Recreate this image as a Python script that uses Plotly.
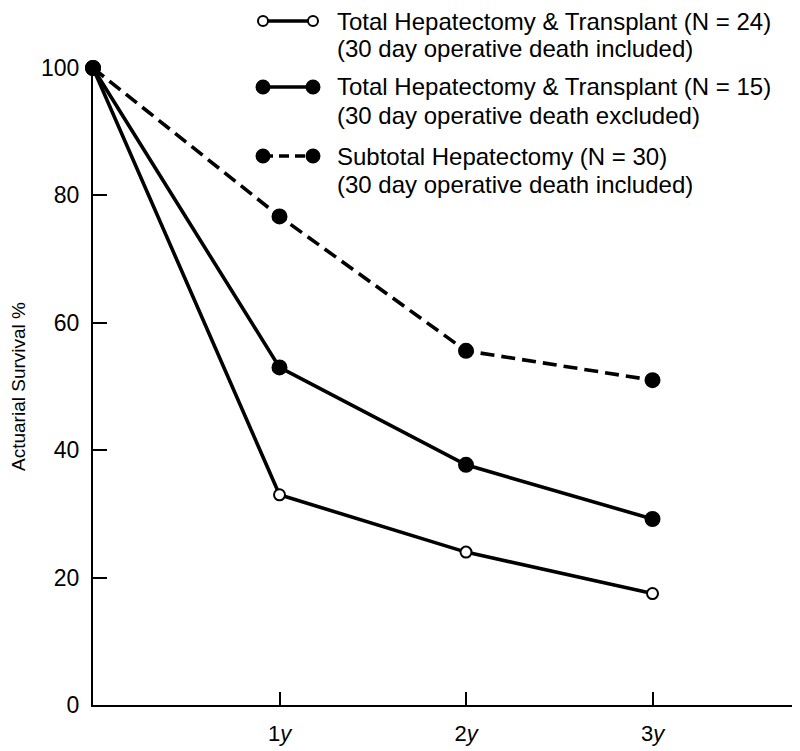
import plotly.graph_objects as go

# ---- data ----
x_years = [0, 1, 2, 3]
x_tick_vals = [1, 2, 3]
x_tick_text = ["1<i>y</i>", "2<i>y</i>", "3<i>y</i>"]
y_tick_vals = [0, 20, 40, 60, 80, 100]

total_included = [100, 33, 24, 17.5]      # open circles, solid
total_excluded = [100, 53, 37.7, 29.2]    # filled circles, solid
subtotal_included = [100, 76.7, 55.6, 51]  # filled circles, dashed

legend_lines = [
    ["Total Hepatectomy & Transplant (N = 24)", "(30 day operative death included)"],
    ["Total Hepatectomy & Transplant (N = 15)", "(30 day operative death excluded)"],
    ["Subtotal Hepatectomy (N = 30)", "(30 day operative death included)"],
]
legend_dash = ["solid", "solid", "10px,6px"]
legend_fill = ["white", "black", "black"]

FONT = "Liberation Sans, Arial, sans-serif"

# the page body has an 8px default margin; work in window pixels and offset
OFF = 8
W, H = 800 - OFF, 751 - OFF
L, R, T, B = 93 - OFF, 795 - OFF, 68 - OFF, 705 - OFF


def px(xp):
    return (xp - OFF - L) / (R - L)


def py(yp):
    return (B - (yp - OFF)) / (B - T)


fig = go.Figure()

series = [
    (total_included, "solid", "white", 11),
    (total_excluded, "solid", "black", 14),
    (subtotal_included, "14px,7px", "black", 14),
]
for vals, dash, fill, msize in series:
    fig.add_trace(go.Scatter(
        x=x_years, y=vals, mode="lines+markers",
        line=dict(color="black", width=3.6, dash=dash),
        marker=dict(size=msize, color=fill, line=dict(color="black", width=2)),
        showlegend=False, cliponaxis=False,
    ))

shapes = []
annotations = []
row_y = [21, 87, 156]
gap = 28
for i, lines in enumerate(legend_lines):
    yc = row_y[i]
    shapes.append(dict(type="line", xref="paper", yref="paper",
                       x0=px(263), x1=px(313), y0=py(yc), y1=py(yc),
                       line=dict(color="black", width=3.4, dash=legend_dash[i])))
    r = 5 if legend_fill[i] == "white" else 6.5
    for cx in (263, 313):
        shapes.append(dict(type="circle", xref="paper", yref="paper",
                           xsizemode="pixel", ysizemode="pixel",
                           xanchor=px(cx), yanchor=py(yc),
                           x0=-r, x1=r, y0=-r, y1=r,
                           fillcolor=legend_fill[i],
                           line=dict(color="black", width=2)))
    for j, txt in enumerate(lines):
        annotations.append(dict(text=txt, xref="paper", yref="paper",
                                x=px(335), y=py(yc + j * gap),
                                xanchor="left", yanchor="middle",
                                showarrow=False,
                                font=dict(family=FONT, size=24, color="black")))

fig.update_layout(
    width=W, height=H,
    margin=dict(l=L, r=W - R, t=T, b=H - B),
    plot_bgcolor="white", paper_bgcolor="white",
    font=dict(family=FONT, color="black"),
    shapes=shapes, annotations=annotations,
    showlegend=False,
)
fig.update_xaxes(
    range=[0, (R - L) / 186.5], showgrid=False, zeroline=False,
    showline=True, linecolor="black", linewidth=2,
    ticks="inside", ticklen=13, tickwidth=2, tickcolor="black",
    tickvals=x_tick_vals, ticktext=x_tick_text,
    tickfont=dict(family=FONT, size=22, color="black"),
    ticklabelstandoff=8,
)
fig.update_yaxes(
    range=[0, 100], showgrid=False, zeroline=False,
    showline=True, linecolor="black", linewidth=2,
    ticks="inside", ticklen=14, tickwidth=2, tickcolor="black",
    tickvals=y_tick_vals,
    tickfont=dict(family=FONT, size=23, color="black"),
    ticklabelstandoff=7,
    title=dict(text="Actuarial Survival %", font=dict(family=FONT, size=19, color="black"),
               standoff=14),
)

fig.write_html("out.html")
